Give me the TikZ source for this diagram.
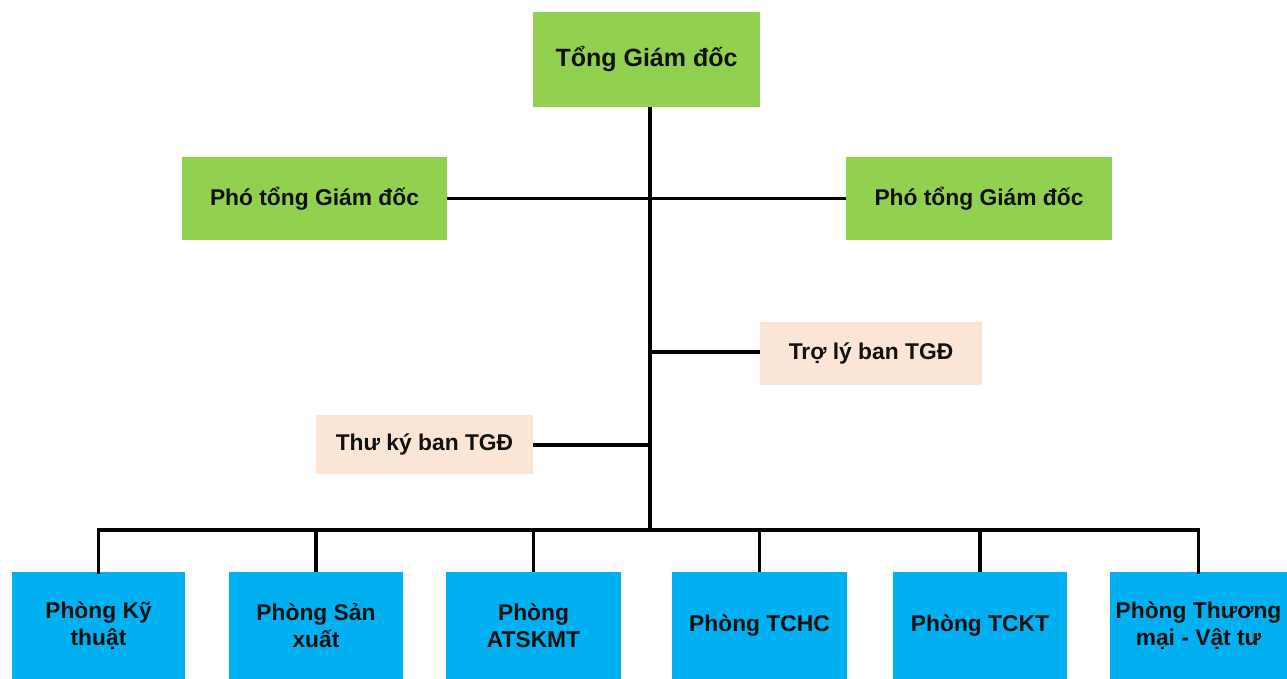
\documentclass[tikz,border=0pt]{standalone}
\usepackage{fontspec}
\setmainfont{Liberation Sans}
\definecolor{boxgreen}{HTML}{92D050}
\definecolor{boxblue}{HTML}{00B0F0}
\definecolor{boxpeach}{HTML}{FBE5D6}
\definecolor{txt}{HTML}{111111}
\tikzset{
  base/.style={inner sep=0pt, align=center, text=txt, font=\fontsize{22.8}{27}\selectfont\bfseries},
  greenbox/.style={base, fill=boxgreen},
  peachbox/.style={base, fill=boxpeach},
  bluebox/.style={base, fill=boxblue, minimum height=107pt},
  link/.style={draw=black, line width=3.8pt}
}
\begin{document}
\begin{tikzpicture}[x=1pt,y=-1pt]
\useasboundingbox (0,0) rectangle (1287,679);
\fill[white] (0,0) rectangle (1287,679);
\node[greenbox, minimum width=227pt, minimum height=95pt, font=\fontsize{25}{29}\selectfont\bfseries] (top) at (646.5,59.5) {Tổng Giám đốc};
\node[greenbox, minimum width=265pt, minimum height=83pt] (phoL) at (314.5,198.5) {Phó tổng Giám đốc};
\node[greenbox, minimum width=266pt, minimum height=83pt] (phoR) at (979,198.5) {Phó tổng Giám đốc};
\node[peachbox, minimum width=222pt, minimum height=63pt] (troly) at (871,353.5) {Trợ lý ban TGĐ};
\node[peachbox, minimum width=217pt, minimum height=59pt] (thuky) at (424.5,444.5) {Thư ký ban TGĐ};
\node[bluebox, minimum width=173pt] (b1) at (98.5,625.5) {Phòng Kỹ\\thuật};
\node[bluebox, minimum width=174pt] (b2) at (316,625.5) {Phòng Sản\\xuất};
\node[bluebox, minimum width=175pt] (b3) at (533.5,625.5) {Phòng\\ATSKMT};
\node[bluebox, minimum width=175pt] (b4) at (759.5,625.5) {Phòng TCHC};
\node[bluebox, minimum width=174pt] (b5) at (980,625.5) {Phòng TCKT};
\node[bluebox, minimum width=177pt] (b6) at (1198.5,625.5) {Phòng Thương\\mại - Vật tư};
\coordinate (bus) at (650,530);
\coordinate (tro) at (650,352);
\coordinate (thu) at (650,445);
\draw[link] (bus |- top.south) -- (bus);
\draw[link] (phoL.east) -- (phoR.west);
\draw[link] (tro) -- (tro -| troly.west);
\draw[link] (thu -| thuky.east) -- (thu);
\draw[link, line cap=rect] (bus) -| (b1.north);
\draw[link, line cap=rect] (bus) -| (b6.north);
\draw[link] (bus) -| (b2.north);
\draw[link] (bus) -| (b3.north);
\draw[link] (bus) -| (b4.north);
\draw[link] (bus) -| (b5.north);
\end{tikzpicture}
\end{document}
